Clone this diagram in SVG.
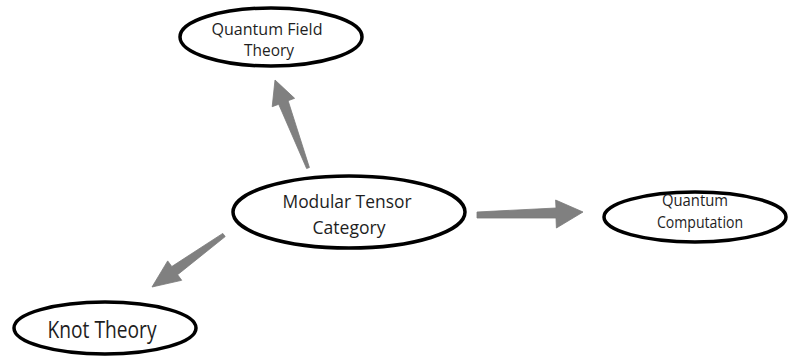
<svg xmlns="http://www.w3.org/2000/svg" width="790" height="357" viewBox="0 0 790 357">
<style>
.node ellipse{fill:#fff;stroke:#000;stroke-width:3.5}
.node text{font-family:"Open Sans","DejaVu Sans",sans-serif;fill:#1e1e1e;text-anchor:middle}
.arrow{fill:#808080;stroke:#7a7a7a;stroke-width:0.8;stroke-linejoin:round}
</style>
<rect width="790" height="357" fill="#fff"/>
<g id="connectors">
<polygon class="arrow" points="309.4,167.5 288.1,100.7 294.6,98.3 275,80 272.2,106.7 278.7,104.3 306.6,168.5"/>
<polygon class="arrow" points="477,218 556,218 556.4,228 583,212 555.6,200 556,208 477,212"/>
<polygon class="arrow" points="222.8,233.4 171.8,266.5 167.7,260.9 152,287 181.7,280.3 177.6,274.7 225.2,236.6"/>
</g>
<g id="qft" class="node">
<ellipse cx="271" cy="37" rx="91" ry="29"/>
<text font-size="16"><tspan x="267" y="35" textLength="111" lengthAdjust="spacingAndGlyphs">Quantum Field</tspan><tspan x="269" y="56" textLength="50" lengthAdjust="spacingAndGlyphs">Theory</tspan></text>
</g>
<g id="mtc" class="node">
<ellipse cx="349" cy="212" rx="116" ry="36"/>
<text font-size="19"><tspan x="347" y="208" textLength="129" lengthAdjust="spacingAndGlyphs">Modular Tensor</tspan><tspan x="349" y="234" textLength="73" lengthAdjust="spacingAndGlyphs">Category</tspan></text>
</g>
<g id="qc" class="node">
<ellipse cx="695" cy="217" rx="91" ry="25"/>
<text font-size="16"><tspan x="695" y="206" textLength="66" lengthAdjust="spacingAndGlyphs">Quantum</tspan><tspan x="700" y="228" textLength="86" lengthAdjust="spacingAndGlyphs">Computation</tspan></text>
</g>
<g id="knot" class="node">
<ellipse cx="105" cy="328" rx="91" ry="26"/>
<text x="102" y="338" font-size="24" textLength="109" lengthAdjust="spacingAndGlyphs">Knot Theory</text>
</g>
</svg>
